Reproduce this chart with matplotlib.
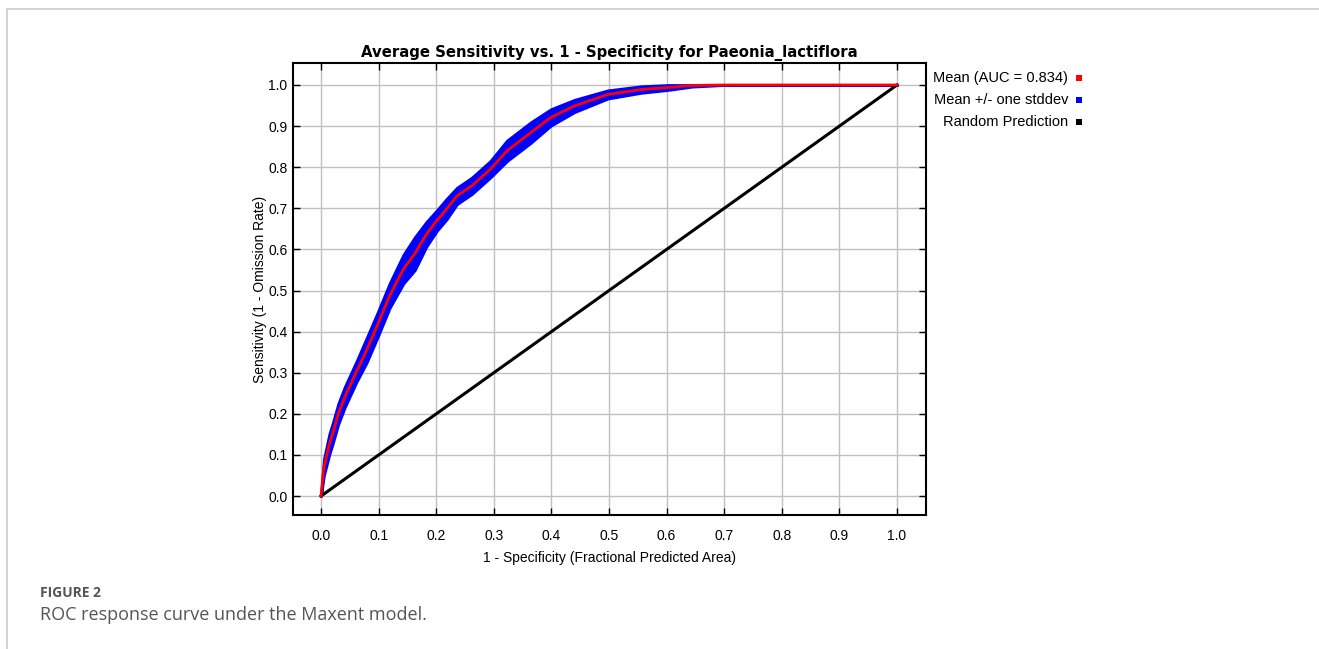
import matplotlib
matplotlib.use("Agg")
import matplotlib.pyplot as plt
from matplotlib.patches import Rectangle
from matplotlib.lines import Line2D
import numpy as np

# ---- data ----
fpr = [0.0, 0.005, 0.0146, 0.020, 0.030, 0.041, 0.061, 0.079, 0.099, 0.119, 0.143,
       0.163, 0.183, 0.201, 0.218, 0.236, 0.262, 0.294, 0.323, 0.364, 0.399,
       0.440, 0.498, 0.556, 0.603, 0.644, 0.700, 0.730, 1.0]
tpr = [0.0, 0.070, 0.127, 0.151, 0.200, 0.240, 0.301, 0.354, 0.419, 0.487, 0.552,
       0.590, 0.637, 0.670, 0.698, 0.730, 0.755, 0.795, 0.840, 0.884, 0.921,
       0.949, 0.977, 0.989, 0.994, 0.999, 1.0, 1.0, 1.0]
sd = [0.0, 0.020, 0.025, 0.025, 0.025, 0.025, 0.025, 0.030, 0.030, 0.030, 0.035,
      0.040, 0.030, 0.025, 0.025, 0.020, 0.020, 0.020, 0.025, 0.025, 0.020,
      0.015, 0.010, 0.008, 0.006, 0.003, 0.0, 0.0, 0.0]
random_x = [0.0, 1.0]
random_y = [0.0, 1.0]
ticks = [0.0, 0.1, 0.2, 0.3, 0.4, 0.5, 0.6, 0.7, 0.8, 0.9, 1.0]
tick_labels = ["0.0", "0.1", "0.2", "0.3", "0.4", "0.5", "0.6", "0.7", "0.8", "0.9", "1.0"]
auc = 0.834
title = "Average Sensitivity vs. 1 - Specificity for Paeonia_lactiflora"
legend_labels = [f"Mean (AUC = {auc:.3f})", "Mean +/- one stddev", "Random Prediction"]
legend_colors = ["#ff0000", "#0000ff", "#000000"]

W, H = 1319, 649
fig = plt.figure(figsize=(W / 100, H / 100), dpi=100)
fig.patch.set_facecolor("white")

# page frame lines
fig.add_artist(Line2D([7 / W, 1.0], [1 - 9 / H, 1 - 9 / H], color="#cccccc", lw=1.2))
fig.add_artist(Line2D([7 / W, 7 / W], [1 - 9 / H, 0.0], color="#cccccc", lw=1.2))

ax = fig.add_axes([293 / W, 1 - 515 / H, (926 - 293) / W, (515 - 63) / H])
ax.set_xlim(-0.0486, 1.0504)
ax.set_ylim(-0.046, 1.0535)

fnt = "Liberation Sans"
x = np.array(fpr)
y = np.array(tpr)
s = np.array(sd)
ax.fill_between(x, np.clip(y - s, 0, 1), np.clip(y + s, 0, 1), color="#0000ff",
                lw=2.0, edgecolor="#0000ff", zorder=2)
ax.plot(random_x, random_y, color="black", lw=2.2, zorder=3)
ax.plot(x, y, color="#ff0000", lw=2.0, zorder=4)

ax.set_xticks(ticks)
ax.set_xticklabels(tick_labels, fontfamily=fnt, fontsize=10)
ax.set_yticks(ticks)
ax.set_yticklabels(tick_labels, fontfamily=fnt, fontsize=10)
ax.tick_params(direction="in", length=5, width=1, top=True, right=True,
               colors="black")
ax.tick_params(axis="x", pad=10)
ax.tick_params(axis="y", pad=4)
ax.grid(True, color="#c0c0c0", lw=1)
ax.set_axisbelow(True)
for sp in ax.spines.values():
    sp.set_linewidth(1.5)

ax.set_title(title, fontfamily="DejaVu Sans", fontweight="bold", fontsize=10.7, pad=4)
ax.set_xlabel("1 - Specificity (Fractional Predicted Area)", fontfamily=fnt,
              fontsize=10, labelpad=6)
ax.set_ylabel("Sensitivity (1 - Omission Rate)", fontfamily=fnt, fontsize=10,
              labelpad=1)

# legend
rows_y = [78, 100, 122]
for lab, col, yy in zip(legend_labels, legend_colors, rows_y):
    fig.text(1068 / W, 1 - yy / H, lab, ha="right", va="center", fontfamily=fnt,
             fontsize=10.5)
    fig.add_artist(Rectangle((1076 / W, 1 - (yy + 3) / H), 6 / W, 6 / H,
                             facecolor=col, edgecolor="none",
                             transform=fig.transFigure))

# caption
fig.text(40 / W, 1 - 593 / H, "FIGURE 2", fontfamily="Open Sans", fontweight="bold",
         fontsize=10, color="#555555", va="center")
fig.text(40 / W, 1 - 615 / H, "ROC response curve under the Maxent model.",
         fontfamily="Open Sans", fontsize=13, color="#555555", va="center")

fig.savefig("out.png", dpi=100)
